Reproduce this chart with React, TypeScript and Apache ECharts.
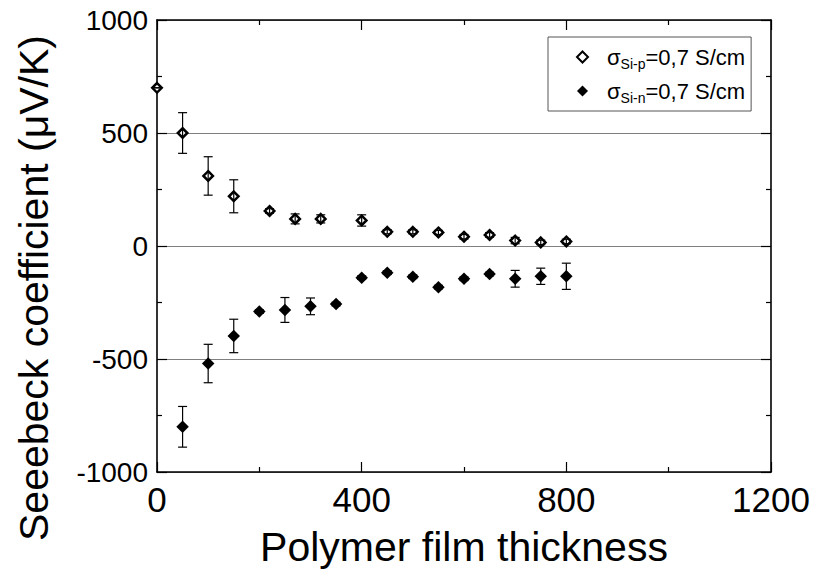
import React, { useEffect, useRef } from "react";
import * as echarts from "echarts";

// ---- data ----
const pX = [0, 50, 100, 150, 220, 270, 320, 400, 450, 500, 550, 600, 650, 700, 750, 800];
const pY = [700, 500, 310, 220, 155, 120, 120, 113, 63, 63, 60, 41, 49, 24, 16, 20];
const pErr = [0, 90, 85, 73, 10, 22, 18, 25, 9, 9, 9, 10, 10, 14, 10, 10];

const nX = [50, 100, 150, 200, 250, 300, 350, 400, 450, 500, 550, 600, 650, 700, 750, 800];
const nY = [-800, -520, -398, -290, -283, -267, -257, -140, -118, -136, -182, -145, -124, -145, -134, -134];
const nErr = [90, 85, 74, 8, 55, 37, 8, 8, 8, 8, 8, 8, 8, 37, 36, 58];

const xTicks = [0, 400, 800, 1200];
const yTicks = [-1000, -500, 0, 500, 1000];

const legendLabels: Record<string, string> = {
  p: "{s|σ}{sub|Si-p}{t|=0,7 S/cm}",
  n: "{s|σ}{sub|Si-n}{t|=0,7 S/cm}",
};

const FONT = "'Liberation Sans', Arial, Helvetica, sans-serif";

const errRender = (params: any, api: any) => {
  const x = api.value(0);
  const y = api.value(1);
  const e = api.value(2);
  const top = api.coord([x, y + e]);
  const bot = api.coord([x, y - e]);
  const hw = 4.5;
  const st = { stroke: "#000", lineWidth: 1.2 };
  return {
    type: "group",
    children: [
      { type: "line", shape: { x1: top[0], y1: top[1], x2: bot[0], y2: bot[1] }, style: st },
      { type: "line", shape: { x1: top[0] - hw, y1: top[1], x2: top[0] + hw, y2: top[1] }, style: st },
      { type: "line", shape: { x1: bot[0] - hw, y1: bot[1], x2: bot[0] + hw, y2: bot[1] }, style: st },
    ],
  };
};

export default function App() {
  const ref = useRef<HTMLDivElement>(null);
  useEffect(() => {
    if (!ref.current) return;
    const chart = echarts.init(ref.current, undefined, { renderer: "svg" });
    const xMin = xTicks[0];
    const xMax = xTicks[xTicks.length - 1];
    const xInt = xTicks[1] - xTicks[0];
    const yMin = yTicks[0];
    const yMax = yTicks[yTicks.length - 1];
    const yInt = yTicks[1] - yTicks[0];
    const axisLine = { show: true, onZero: false, lineStyle: { color: "#000", width: 1.6 } };
    const tick = { show: true, inside: true, length: 10, lineStyle: { color: "#000", width: 1.2 } };
    const minor = { show: true, splitNumber: 2, length: 5, lineStyle: { color: "#000", width: 1.2 } };
    const plain = (v: number) => String(v);

    const option: any = {
      animation: false,
      backgroundColor: "#fff",
      textStyle: { fontFamily: FONT },
      grid: { left: 157, right: 42, top: 20, bottom: 98, containLabel: false },
      legend: {
        data: ["p", "n"],
        orient: "vertical",
        left: 548,
        top: 37,
        padding: [9, 6, 6, 28],
        itemGap: 9,
        itemWidth: 11,
        itemHeight: 11,
        borderColor: "#555",
        borderWidth: 1,
        selectedMode: false,
        formatter: (name: string) => legendLabels[name],
        textStyle: {
          fontFamily: FONT,
          color: "#000",
          rich: {
            s: { fontFamily: FONT, fontSize: 22, lineHeight: 28, verticalAlign: "middle", color: "#000", padding: [0, 0, 0, 14] },
            sub: { fontFamily: FONT, fontSize: 14, lineHeight: 14, verticalAlign: "bottom", color: "#000" },
            t: { fontFamily: FONT, fontSize: 22, lineHeight: 28, verticalAlign: "middle", color: "#000" },
          },
        },
      },
      xAxis: [
        {
          type: "value",
          position: "bottom",
          min: xMin,
          max: xMax,
          interval: xInt,
          axisLine,
          axisTick: tick,
          minorTick: minor,
          splitLine: { show: false },
          axisLabel: { fontFamily: FONT, fontSize: 35, color: "#000", margin: 10, formatter: plain },
          name: "Polymer film thickness",
          nameLocation: "middle",
          nameGap: 54,
          nameTextStyle: { fontFamily: FONT, fontSize: 41, color: "#000" },
        },
        {
          type: "value",
          position: "top",
          min: xMin,
          max: xMax,
          interval: xInt,
          axisLine,
          axisTick: tick,
          minorTick: minor,
          splitLine: { show: false },
          axisLabel: { show: false },
        },
      ],
      yAxis: [
        {
          type: "value",
          position: "left",
          min: yMin,
          max: yMax,
          interval: yInt,
          axisLine,
          axisTick: tick,
          minorTick: minor,
          splitLine: { show: true, lineStyle: { color: "#808080", width: 1 } },
          axisLabel: { fontFamily: FONT, fontSize: 28, color: "#000", margin: 9, formatter: plain },
        },
        {
          type: "value",
          position: "right",
          min: yMin,
          max: yMax,
          interval: yInt,
          axisLine,
          axisTick: tick,
          minorTick: minor,
          splitLine: { show: false },
          axisLabel: { show: false },
        },
      ],
      graphic: [
        {
          type: "text",
          x: 34,
          y: 288,
          rotation: Math.PI / 2,
          style: {
            text: "Seeebeck coefficient (μV/K)",
            fontFamily: FONT,
            fontSize: 41,
            fill: "#000",
            textAlign: "center",
            textVerticalAlign: "middle",
          },
        },
      ],
      series: [
        {
          name: "p",
          type: "scatter",
          xAxisIndex: 0,
          yAxisIndex: 0,
          symbol: "diamond",
          symbolSize: 9.5,
          itemStyle: { color: "#fff", borderColor: "#000", borderWidth: 2.5, opacity: 1 },
          data: pX.map((x, i) => [x, pY[i]]),
          z: 3,
        },
        {
          name: "n",
          type: "scatter",
          xAxisIndex: 0,
          yAxisIndex: 0,
          symbol: "diamond",
          symbolSize: 12.5,
          itemStyle: { color: "#000", borderColor: "#000", borderWidth: 0, opacity: 1 },
          data: nX.map((x, i) => [x, nY[i]]),
          z: 3,
        },
        {
          name: "pErr",
          type: "custom",
          xAxisIndex: 0,
          yAxisIndex: 0,
          renderItem: errRender,
          encode: { x: 0, y: 1 },
          data: pX.map((x, i) => [x, pY[i], pErr[i]]),
          z: 4,
        },
        {
          name: "nErr",
          type: "custom",
          xAxisIndex: 0,
          yAxisIndex: 0,
          renderItem: errRender,
          encode: { x: 0, y: 1 },
          data: nX.map((x, i) => [x, nY[i], nErr[i]]),
          z: 4,
        },
      ],
    };
    chart.setOption(option);
    return () => chart.dispose();
  }, []);
  return (
    <div
      ref={ref}
      style={{ position: "fixed", left: 0, top: 0, width: 813, height: 572, background: "#fff" }}
    />
  );
}
